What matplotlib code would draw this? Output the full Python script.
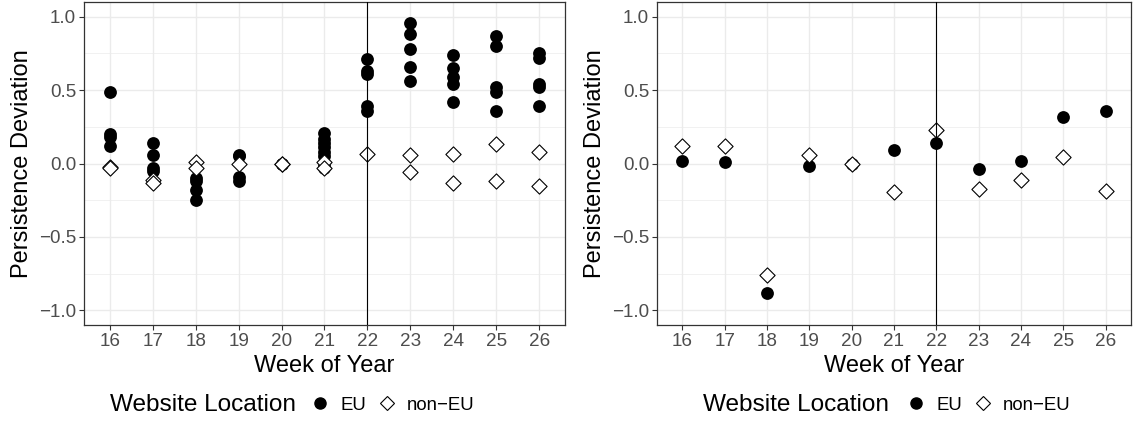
import matplotlib
matplotlib.use("Agg")
from matplotlib import pyplot as plt
from matplotlib.lines import Line2D

plt.rcParams['font.family'] = ['Liberation Sans', 'DejaVu Sans']

# data
weeks = list(range(16, 27))

left_eu = [
    [0.49, 0.20, 0.18, 0.12],
    [0.14, 0.06, -0.03, -0.05],
    [-0.10, -0.12, -0.18, -0.25],
    [0.06, 0.05, -0.09, -0.12],
    [0.0, 0.0],
    [0.21, 0.17, 0.14, 0.11, 0.08, 0.05, -0.02, -0.03],
    [0.71, 0.63, 0.61, 0.39, 0.36],
    [0.96, 0.88, 0.78, 0.66, 0.56],
    [0.74, 0.65, 0.59, 0.54, 0.42],
    [0.87, 0.80, 0.52, 0.49, 0.36],
    [0.75, 0.72, 0.54, 0.52, 0.39],
]
left_noneu = [
    [-0.025, -0.03],
    [-0.11, -0.13],
    [0.01, -0.03],
    [0.0],
    [0.0, 0.0],
    [0.01, -0.03],
    [0.065],
    [0.055, -0.06],
    [0.065, -0.13],
    [0.13, -0.12],
    [0.08, -0.155],
]

right_eu = [0.02, 0.01, -0.88, -0.02, 0.0, 0.09, 0.14, -0.035, 0.02, 0.315, 0.36]
right_noneu = [0.12, 0.12, -0.76, 0.055, 0.0, -0.195, 0.225, -0.175, -0.115, 0.045, -0.19]

yticks = [-1.0, -0.5, 0.0, 0.5, 1.0]
ytick_labels = ['\u22121.0', '\u22120.5', '0.0', '0.5', '1.0']
legend_labels = ['EU', 'non\u2212EU']
cutoff_week = 22


def flatten(groups):
    xs, ys = [], []
    for w, vals in zip(weeks, groups):
        xs += [w] * len(vals)
        ys += vals
    return xs, ys


def style(ax):
    ax.set_xlim(15.4, 26.6)
    ax.set_ylim(-1.1, 1.1)
    ax.set_xticks(weeks)
    ax.set_yticks(yticks)
    ax.set_yticklabels(ytick_labels)
    ax.set_yticks([-0.75, -0.25, 0.25, 0.75], minor=True)
    ax.grid(which='major', color='#EBEBEB', lw=1.0)
    ax.grid(which='minor', axis='y', color='#EBEBEB', lw=0.5)
    ax.set_axisbelow(True)
    for s in ax.spines.values():
        s.set_color('#333333')
        s.set_linewidth(0.9)
    ax.tick_params(which='major', length=3.7, width=0.8, color='#333333',
                   labelsize=13.6, labelcolor='#4D4D4D', pad=2)
    ax.tick_params(which='minor', length=0)
    ax.axvline(cutoff_week, color='black', lw=0.8, zorder=5)
    ax.set_xlabel('Week of Year', fontsize=17, labelpad=3.5)
    ax.set_ylabel('Persistence Deviation', fontsize=17, labelpad=4)


fig = plt.figure(figsize=(11.33, 4.24), dpi=100)
W, H = 1133, 424
ax1 = fig.add_axes([84 / W, 1 - 325 / H, (565 - 84) / W, (325 - 2) / H])
ax2 = fig.add_axes([657 / W, 1 - 325 / H, (1131 - 657) / W, (325 - 2) / H])

x, y = flatten(left_eu)
ax1.scatter(x, y, s=85, marker='o', color='black', zorder=3, linewidths=0)
x, y = flatten(left_noneu)
ax1.scatter(x, y, s=60, marker='D', facecolor='white', edgecolor='black',
            linewidths=0.8, zorder=4)

ax2.scatter(weeks, right_eu, s=85, marker='o', color='black', zorder=3, linewidths=0)
ax2.scatter(weeks, right_noneu, s=60, marker='D', facecolor='white', edgecolor='black',
            linewidths=0.8, zorder=4)

for ax in (ax1, ax2):
    style(ax)

handles = [
    Line2D([], [], marker='o', color='black', ls='', markersize=8),
    Line2D([], [], marker='D', markerfacecolor='white', markeredgecolor='black',
           markeredgewidth=0.8, ls='', markersize=7),
]

ly = 1 - 405 / H
for tx, lx in [(110, 310.5), (703, 906.5)]:
    fig.text(tx / W, ly, 'Website Location', fontsize=17.6, va='center', ha='left')
    fig.legend(handles, legend_labels, loc='center left', bbox_to_anchor=(lx / W, ly),
               ncol=2, frameon=False, fontsize=13.4, handlelength=1.0,
               handletextpad=0.6, columnspacing=0.6, borderpad=0, borderaxespad=0)

fig.savefig('out.png', dpi=100)
